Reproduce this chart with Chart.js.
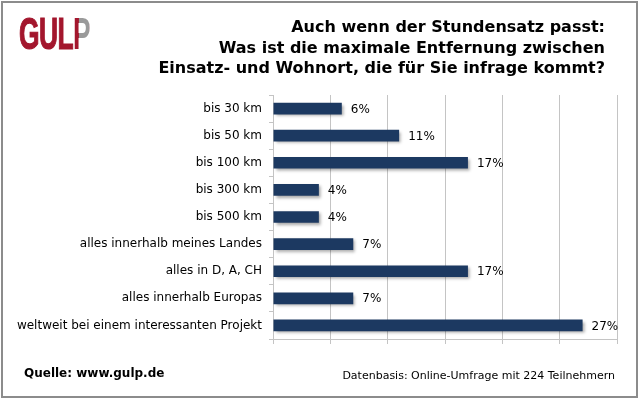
<!DOCTYPE html>
<html><head><meta charset="utf-8">
<script src="https://cdn.jsdelivr.net/npm/chart.js@4/dist/chart.umd.min.js"></script>
<style>
html,body{margin:0;padding:0;background:#fff;}
#wrap{position:relative;width:640px;height:400px;overflow:hidden;background:#fff;}
#frame{position:absolute;left:1px;top:1px;width:637px;height:397px;box-sizing:border-box;border:2px solid #8c8c8c;pointer-events:none;}
#logo{position:absolute;left:19px;top:12px;font-family:"Liberation Sans",sans-serif;font-weight:bold;font-size:44px;line-height:44px;color:#a3162d;letter-spacing:-1px;transform:scaleX(0.6);transform-origin:left top;-webkit-text-stroke:1.2px #a3162d;}
#logo .p{background:linear-gradient(to right,#a3162d 0,#a3162d 36%,#9a9a9a 36%,#9a9a9a 100%);-webkit-background-clip:text;background-clip:text;color:transparent;-webkit-text-stroke:0;}
#title{position:absolute;right:35px;top:17px;text-align:right;font-family:"DejaVu Sans",Verdana,sans-serif;font-weight:bold;font-size:16px;line-height:20.5px;color:#000;white-space:nowrap;}
#src{position:absolute;left:24px;top:366px;font-family:"DejaVu Sans",Verdana,sans-serif;font-weight:bold;font-size:12px;color:#000;}
#basis{position:absolute;right:25px;top:369px;font-family:"DejaVu Sans",Verdana,sans-serif;font-size:11px;color:#000;}
canvas{position:absolute;left:0;top:0;}
</style></head>
<body><div id="wrap">
<canvas id="c" width="640" height="400"></canvas>
<div id="logo">GUL<span class="p">P</span></div>
<div id="title">Auch wenn der Stundensatz passt:<br>Was ist die maximale Entfernung zwischen<br>Einsatz- und Wohnort, die für Sie infrage kommt?</div>
<div id="src">Quelle: www.gulp.de</div>
<div id="basis">Datenbasis: Online-Umfrage mit 224 Teilnehmern</div>
<div id="frame"></div>
</div>
<script>
const categories = ["bis 30 km","bis 50 km","bis 100 km","bis 300 km","bis 500 km","alles innerhalb meines Landes","alles in D, A, CH","alles innerhalb Europas","weltweit bei einem interessanten Projekt"];
const percentValues = [6,11,17,4,4,7,17,7,27];
const axisMax = 30;
const axisStep = 5;

const shadowPlugin = {
  id:'barShadow',
  beforeDatasetsDraw(chart){
    const ctx = chart.ctx; ctx.save();
    ctx.shadowColor='rgba(0,0,0,0.35)'; ctx.shadowBlur=3; ctx.shadowOffsetX=2; ctx.shadowOffsetY=2;
  },
  afterDatasetsDraw(chart){
    const ctx = chart.ctx; ctx.restore();
    const meta = chart.getDatasetMeta(0);
    ctx.save();
    ctx.font='12px "DejaVu Sans", Verdana, sans-serif';
    ctx.fillStyle='#000'; ctx.textAlign='left'; ctx.textBaseline='middle';
    meta.data.forEach((bar,i)=>{
      ctx.fillText(chart.data.datasets[0].data[i]+'%', bar.x+9, bar.y+1);
    });
    ctx.restore();
  }
};

new Chart(document.getElementById('c'),{
  type:'bar',
  data:{labels:categories,datasets:[{data:percentValues,backgroundColor:'#1c3961',borderWidth:0,barPercentage:0.43,categoryPercentage:1}]},
  options:{
    indexAxis:'y',responsive:false,animation:false,
    layout:{padding:{left:0,right:23,top:95,bottom:56}},
    plugins:{legend:{display:false},tooltip:{enabled:false},title:{display:false}},
    scales:{
      x:{min:0,max:axisMax,ticks:{display:false,stepSize:axisStep},
         grid:{color:'#c4c4c4',lineWidth:1,tickLength:5,drawTicks:true},
         border:{color:'#c4c4c4'},
         afterFit(s){s.height=5;}},
      y:{grid:{drawOnChartArea:false,color:'#c4c4c4',tickLength:4,offset:true},
         border:{color:'#c4c4c4'},
         ticks:{color:'#000',padding:7,font:{family:'"DejaVu Sans", Verdana, sans-serif',size:12}},
         afterFit(s){s.width=273;}}
    }
  },
  plugins:[shadowPlugin]
});
</script>
</body></html>
